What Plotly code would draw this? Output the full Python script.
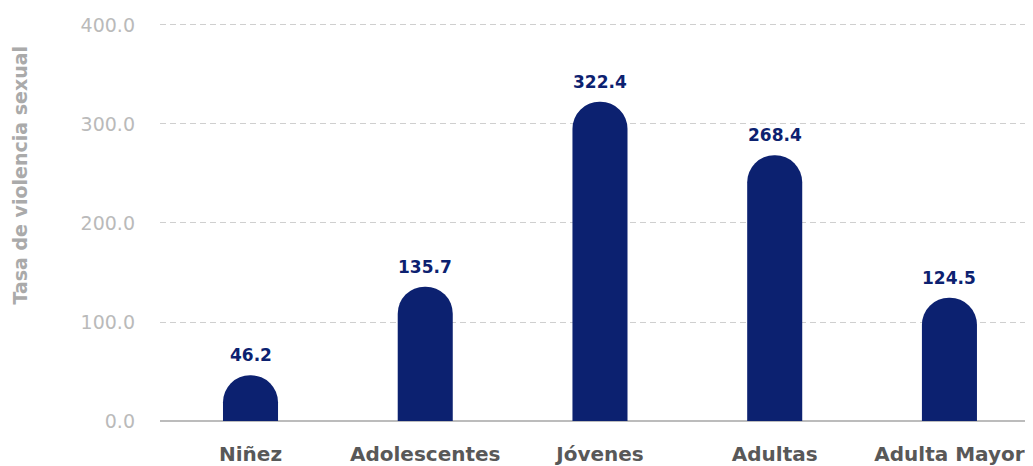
import plotly.graph_objects as go

categories = ["Niñez", "Adolescentes", "Jóvenes", "Adultas", "Adulta Mayor"]
values = [46.2, 135.7, 322.4, 268.4, 124.5]
y_ticks = [0, 100, 200, 300, 400]
y_tick_labels = ["0.0", "100.0", "200.0", "300.0", "400.0"]

navy = "#0c2170"
font_family = "DejaVu Sans"

fig = go.Figure()
fig.add_trace(
    go.Bar(
        x=categories,
        y=values,
        marker=dict(color=navy, line=dict(width=0)),
        width=0.315,
        hoverinfo="x+y",
    )
)

# value labels above each bar
for cat, val in zip(categories, values):
    fig.add_annotation(
        x=cat,
        y=val,
        text=f"{val:.1f}",
        showarrow=False,
        yanchor="bottom",
        yshift=8,
        font=dict(color=navy, size=17, weight="bold"),
    )

# page body has an 8px margin, so margins are 8px smaller than the target
fig.update_layout(
    width=1033,
    height=466,
    margin=dict(l=152, r=0, t=15, b=53),
    plot_bgcolor="white",
    paper_bgcolor="white",
    showlegend=False,
    barcornerradius="50%",
    font=dict(family=font_family),
)

fig.update_yaxes(
    range=[0, 402],
    tickvals=y_ticks,
    ticktext=y_tick_labels,
    tickfont=dict(color="#bababa", size=19),
    showgrid=True,
    gridcolor="#cfcfcf",
    griddash="6px,4px",
    gridwidth=1,
    zeroline=True,
    zerolinecolor="#bcbcbc",
    zerolinewidth=2,
    ticklabelstandoff=24,
    automargin=False,
)

fig.update_xaxes(
    range=[-0.518, 4.524],
    tickfont=dict(color="#585858", size=20, weight="bold"),
    ticklabelstandoff=19,
    showline=False,
    automargin=False,
)

fig.add_annotation(
    text="Tasa de violencia sexual",
    xref="paper",
    yref="paper",
    x=-0.159,
    y=0.619,
    xanchor="center",
    yanchor="middle",
    textangle=-90,
    showarrow=False,
    font=dict(color="#aaaaaa", size=19, weight="bold"),
)

fig.write_html("out.html")
